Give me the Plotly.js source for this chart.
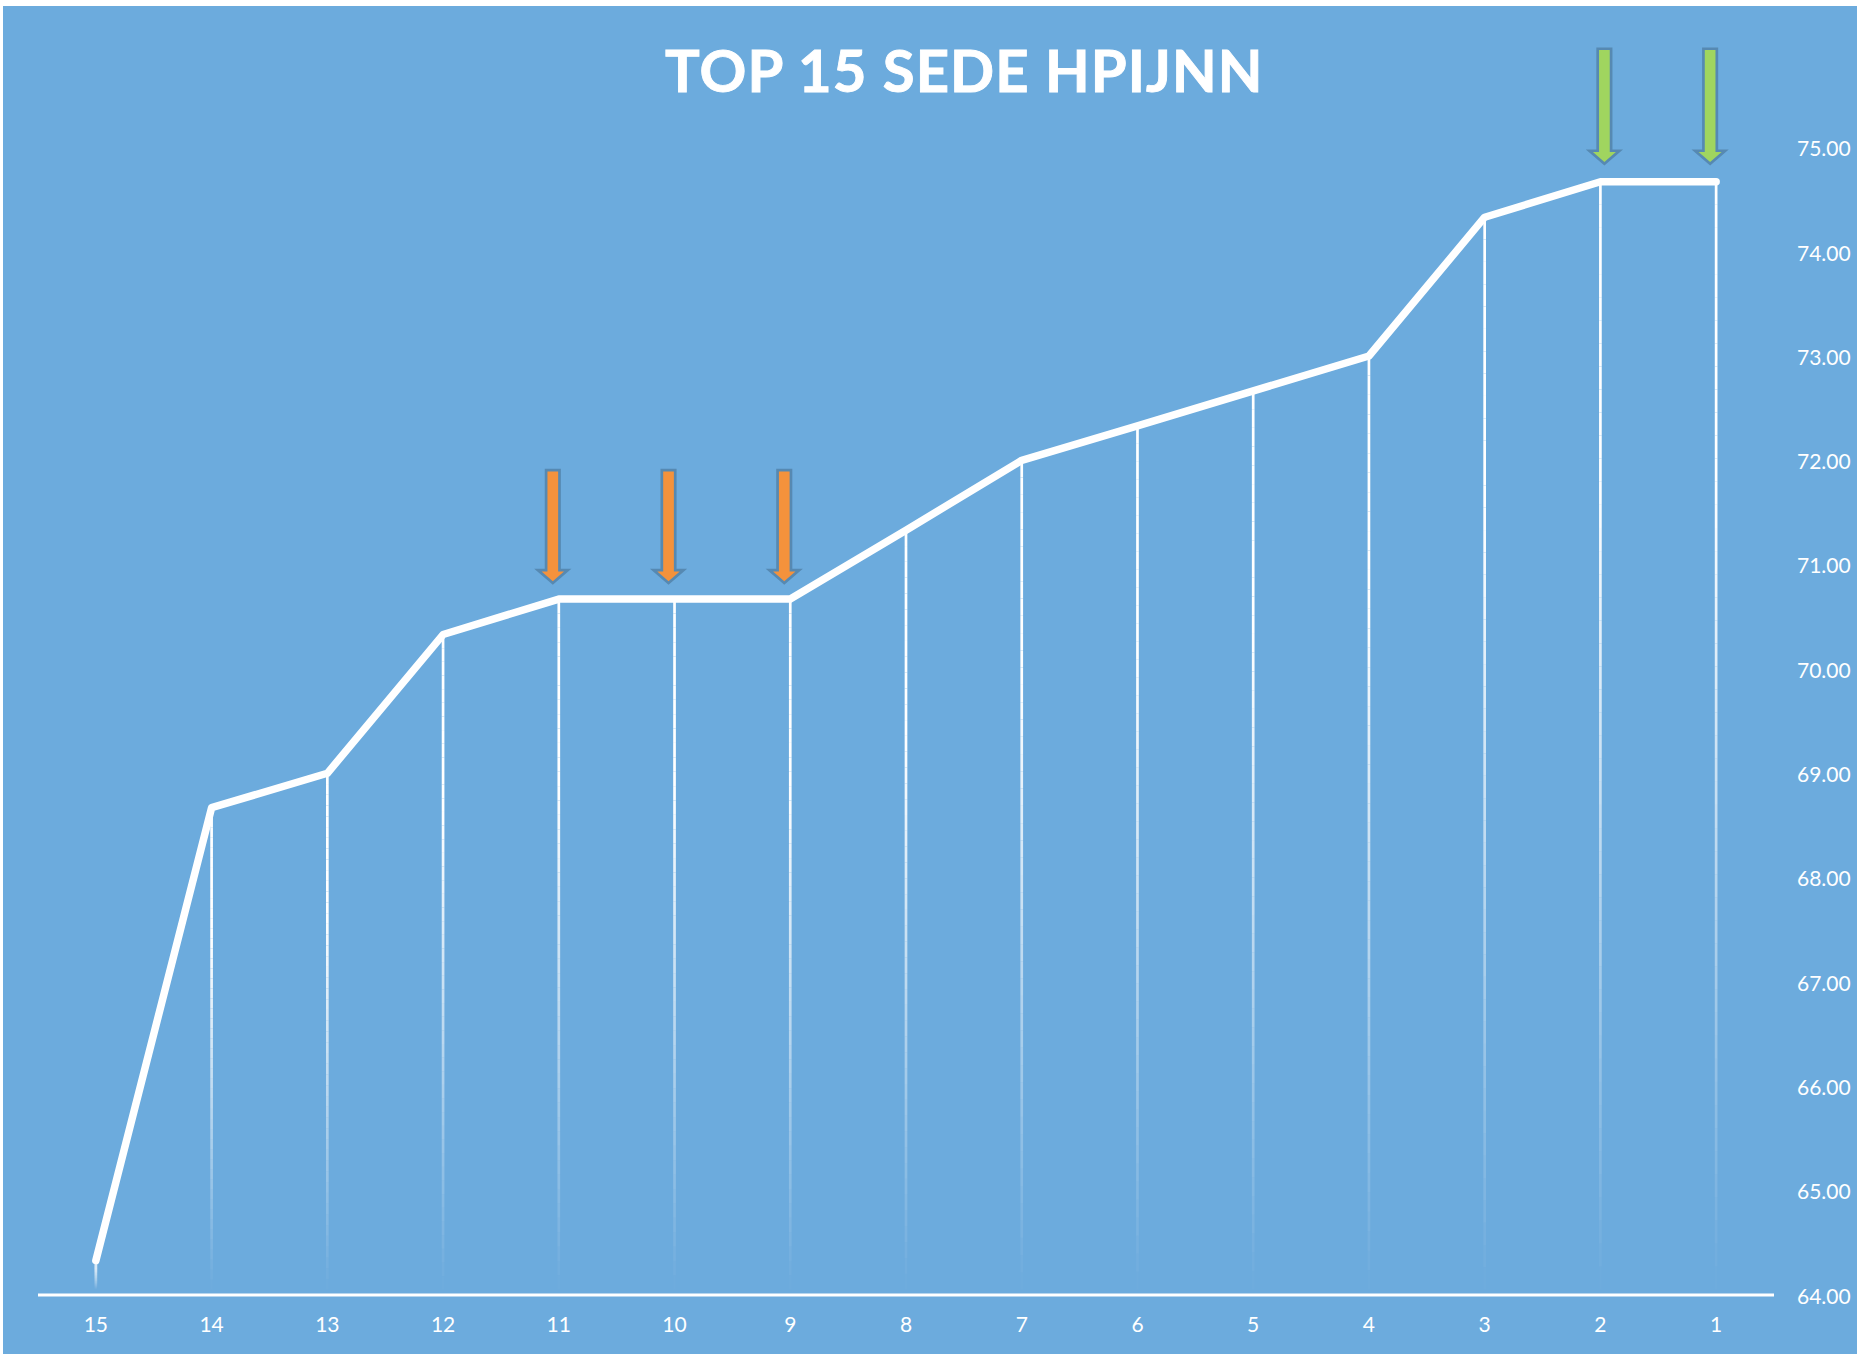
<!DOCTYPE html>
<html>
<head>
<meta charset="utf-8">
<script src="https://cdn.plot.ly/plotly-3.0.1.min.js"></script>
<style>
html,body{margin:0;padding:0;background:#fff;overflow:hidden;}
#chart{position:absolute;left:3px;top:6px;width:1854px;height:1348px;}
.js-line{stroke-linejoin:round;stroke-linecap:round;}
.gtitle{letter-spacing:1.1px;stroke:#ffffff;stroke-width:0.9px;}
.ytick text{translate:0 1.5px;}
</style>
</head>
<body>
<div id="chart"></div>
<script>
const ranks = ['15','14','13','12','11','10','9','8','7','6','5','4','3','2','1'];
const scores = [64.33,68.67,69.0,70.33,70.67,70.67,70.67,71.33,72.0,72.33,72.67,73.0,74.33,74.67,74.67];
const yTicks = [64,65,66,67,68,69,70,71,72,73,74,75];
const orangeRanks = ['11','10','9'];
const greenRanks = ['2','1'];
const orangeDx = [-6,-6,-6];
const greenDx = [4,-6];

const BG = '#6cabdd';
const FONT = 'Lato, Carlito, "Open Sans", sans-serif';
const idx = ranks.map((_, i) => i);

const shapes = [];
const STEPS = 48;
const HOLD = 0.27;
ranks.forEach((r, i) => {
  const top = scores[i], base = 64.05;
  for (let k = 0; k < STEPS; k++) {
    const t = (k + 0.5) / STEPS;
    const a = t < HOLD ? 1 : (1 - t) / (1 - HOLD);
    shapes.push({
      type: 'line', layer: 'below', xref: 'x', yref: 'y',
      x0: i, x1: i,
      y0: top - (top - base) * k / STEPS,
      y1: top - (top - base) * (k + 1) / STEPS,
      line: {color: `rgba(255,255,255,${a.toFixed(3)})`, width: 2.7}
    });
  }
});

shapes.push({
  type: 'line', layer: 'below', xref: 'paper', yref: 'y',
  x0: 0, x1: 1, y0: yTicks[0], y1: yTicks[0],
  line: {color: '#ffffff', width: 3}
});

function arrow(rank, dx, fill, gap, len) {
  const i = ranks.indexOf(rank);
  const hw = 6.7, hh = 15, head = 13;
  const px = v => (dx + v);
  const path = [
    `M ${px(0)} ${gap}`,
    `L ${px(hh)} ${gap + head}`,
    `L ${px(hw)} ${gap + head}`,
    `L ${px(hw)} ${gap + len}`,
    `L ${px(-hw)} ${gap + len}`,
    `L ${px(-hw)} ${gap + head}`,
    `L ${px(-hh)} ${gap + head}`,
    'Z'
  ].join(' ');
  shapes.push({
    type: 'path', layer: 'above', xref: 'x', yref: 'y',
    xsizemode: 'pixel', ysizemode: 'pixel',
    xanchor: i, yanchor: scores[i],
    path: path,
    fillcolor: fill,
    line: {color: '#5689b2', width: 2.7}
  });
}
orangeRanks.forEach((r, k) => arrow(r, orangeDx[k], '#f4923c', 16, 113));
greenRanks.forEach((r, k) => arrow(r, greenDx[k], '#a0d55f', 18, 115));

const trace = {
  x: idx, y: scores, type: 'scatter', mode: 'lines',
  line: {color: '#ffffff', width: 7.5},
  hoverinfo: 'x+y', showlegend: false, cliponaxis: false
};

const layout = {
  width: 1854, height: 1348,
  paper_bgcolor: BG, plot_bgcolor: BG,
  margin: {l: 35, r: 83, t: 37, b: 57, pad: 0},
  showlegend: false,
  font: {family: FONT, color: '#ffffff', size: 21},
  title: {
    text: '<b>TOP 15 SEDE HPIJNN</b>',
    font: {family: FONT, size: 58, color: '#ffffff'},
    x: 0.5336, xanchor: 'center', xref: 'paper', y: 0.9512, yanchor: 'middle', yref: 'container'
  },
  xaxis: {
    type: 'linear', range: [-0.5, 14.5],
    tickmode: 'array', tickvals: idx, ticktext: ranks,
    showgrid: false, zeroline: false, showline: false,
    ticks: '', ticklabelstandoff: 13,
    tickfont: {family: FONT, size: 21, color: '#ffffff'}
  },
  yaxis: {
    type: 'linear', range: [63.98, 76], side: 'right',
    tickmode: 'array', tickvals: yTicks, ticktext: yTicks.map(v => v.toFixed(2)),
    showgrid: false, zeroline: false, showline: false, ticks: '',
    ticklabelstandoff: 22,
    tickfont: {family: FONT, size: 21, color: '#ffffff'}
  },
  shapes: shapes
};
Plotly.newPlot('chart', [trace], layout, {displayModeBar: false, responsive: false});
</script>
</body>
</html>
